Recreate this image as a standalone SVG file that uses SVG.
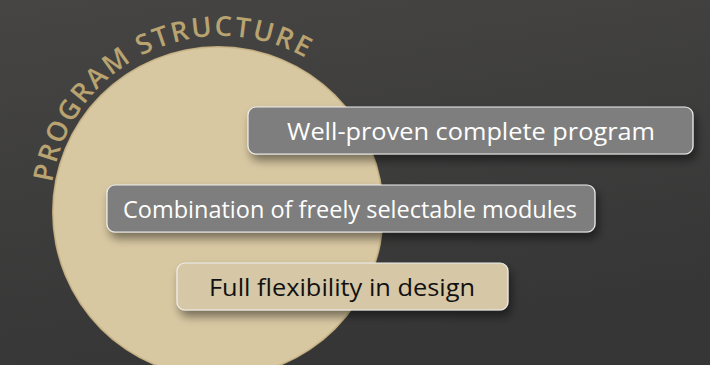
<svg xmlns="http://www.w3.org/2000/svg" width="710" height="365" viewBox="0 0 710 365">
  <defs>
    <linearGradient id="bg" x1="0" y1="0" x2="0.3" y2="1">
      <stop offset="0" stop-color="#464544"/>
      <stop offset="1" stop-color="#363636"/>
    </linearGradient>
    <radialGradient id="disc" cx="0.5" cy="0.5" r="0.5">
      <stop offset="0.985" stop-color="#d8c8a2"/>
      <stop offset="1" stop-color="#b9a372"/>
    </radialGradient>
    <filter id="shadow" x="-10%" y="-30%" width="125%" height="180%">
      <feDropShadow dx="3" dy="6" stdDeviation="5" flood-color="#000" flood-opacity="0.45"/>
    </filter>
    <path id="arc" d="M 52.2 182.6 A 171 171 0 0 1 352.5 97.1"/>
    <style>
      .box { stroke: #eeeeee; stroke-width: 1.2; filter: url(#shadow); }
      .grey { fill: #7e7e7e; }
      .beige { fill: #d6c7a6; }
      .lbl { font-family: "Open Sans", "Noto Sans", sans-serif; font-size: 24.5px; text-anchor: middle; }
      .light { fill: #ffffff; }
      .dark { fill: #111111; }
      .title { font-family: "Open Sans", "Noto Sans", sans-serif; font-size: 27.5px; font-weight: 600; fill: #b9a370; letter-spacing: 2px; }
    </style>
  </defs>
  <rect width="710" height="365" fill="url(#bg)"/>
  <circle cx="218" cy="212" r="166" fill="url(#disc)"/>
  <text class="title"><textPath href="#arc">PROGRAM STRUCTURE</textPath></text>
  <g id="connectors"></g>
  <g id="node-complete">
    <rect class="box grey" x="248" y="107" width="445" height="47" rx="8"/>
    <text class="lbl light" x="471" y="140" textLength="368" lengthAdjust="spacingAndGlyphs">Well-proven complete program</text>
  </g>
  <g id="node-modules">
    <rect class="box grey" x="107" y="185" width="488" height="47" rx="8"/>
    <text class="lbl light" x="350" y="218" textLength="454" lengthAdjust="spacingAndGlyphs">Combination of freely selectable modules</text>
  </g>
  <g id="node-flexibility">
    <rect class="box beige" x="177" y="263" width="331" height="47" rx="8"/>
    <text class="lbl dark" x="342" y="296" textLength="266" lengthAdjust="spacingAndGlyphs">Full flexibility in design</text>
  </g>
</svg>
